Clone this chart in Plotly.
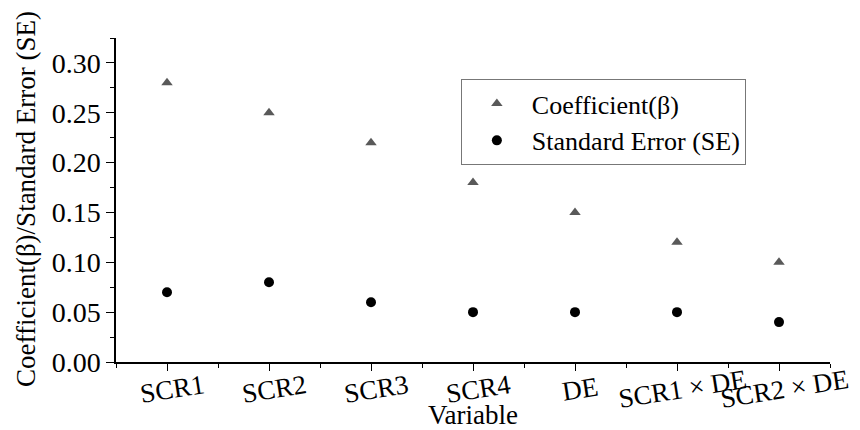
import plotly.graph_objects as go

categories = ["SCR1", "SCR2", "SCR3", "SCR4", "DE", "SCR1 × DE", "SCR2 × DE"]
coefficient = [0.28, 0.25, 0.22, 0.18, 0.15, 0.12, 0.10]
std_error = [0.07, 0.08, 0.06, 0.05, 0.05, 0.05, 0.04]
y_ticks = [0.00, 0.05, 0.10, 0.15, 0.20, 0.25, 0.30]

xi = list(range(len(categories)))
font_family = "Liberation Serif"

fig = go.Figure()
fig.add_trace(go.Scatter(
    x=xi, y=coefficient, mode="markers", name="Coefficient(β)",
    marker=dict(symbol="triangle-up", size=10, color="#595959"),
))
fig.add_trace(go.Scatter(
    x=xi, y=std_error, mode="markers", name="Standard Error (SE)",
    marker=dict(symbol="circle", size=10, color="#000000"),
))

# rotated, centred category labels (drawn on the x scale)
annotations = [
    dict(x=i, y=-0.083, xref="x", yref="paper", text=lab, showarrow=False,
         textangle=-9, xanchor="center", yanchor="middle", xshift=5,
         font=dict(size=27, family=font_family, color="black"))
    for i, lab in zip(xi, categories)
]
annotations.append(dict(x=0.5, y=-0.163, xref="paper", yref="paper", text="Variable",
                        showarrow=False, xanchor="center", yanchor="middle",
                        font=dict(size=27, family=font_family, color="black")))
annotations.append(dict(x=-0.126, y=0.503, xref="paper", yref="paper",
                        text="Coefficient(β)/Standard Error (SE)", textangle=-90,
                        showarrow=False, xanchor="center", yanchor="middle",
                        font=dict(size=27, family=font_family, color="black")))

fig.update_layout(
    width=860, height=430,
    margin=dict(l=116, r=30, t=38, b=68),
    paper_bgcolor="white", plot_bgcolor="white",
    font=dict(family=font_family, color="black", size=20),
    showlegend=True,
    annotations=annotations,
    legend=dict(
        x=0.483, y=0.873, xanchor="left", yanchor="top",
        bordercolor="#777777", borderwidth=1, bgcolor="white",
        font=dict(size=26, family=font_family),
        itemwidth=60, tracegroupgap=0,
    ),
    xaxis=dict(
        range=[-0.5, 6.5], tickmode="array", tickvals=xi, ticktext=categories,
        showticklabels=False, showgrid=False, zeroline=False, automargin=False,
        showline=True, linecolor="black", linewidth=1.5,
        ticks="outside", ticklen=7, tickcolor="black", tickwidth=1,
        minor=dict(tickmode="array", tickvals=[i + 0.5 for i in range(-1, 7)], ticks="outside", ticklen=4, tickcolor="black"),
    ),
    yaxis=dict(
        range=[0, 0.325], tickmode="array", tickvals=y_ticks,
        ticktext=[f"{v:.2f}" for v in y_ticks],
        showgrid=False, zeroline=False, automargin=False,
        showline=True, linecolor="black", linewidth=1.5,
        ticks="outside", ticklen=8, tickcolor="black", tickwidth=1,
        minor=dict(tickmode="array", tickvals=[0.025, 0.075, 0.125, 0.175, 0.225, 0.275, 0.325], ticks="outside", ticklen=4, tickcolor="black"),
        tickfont=dict(size=28, family=font_family),
    ),
)

fig.write_html("out.html", config={"displayModeBar": False},
               post_script="document.body.style.margin='0';")
